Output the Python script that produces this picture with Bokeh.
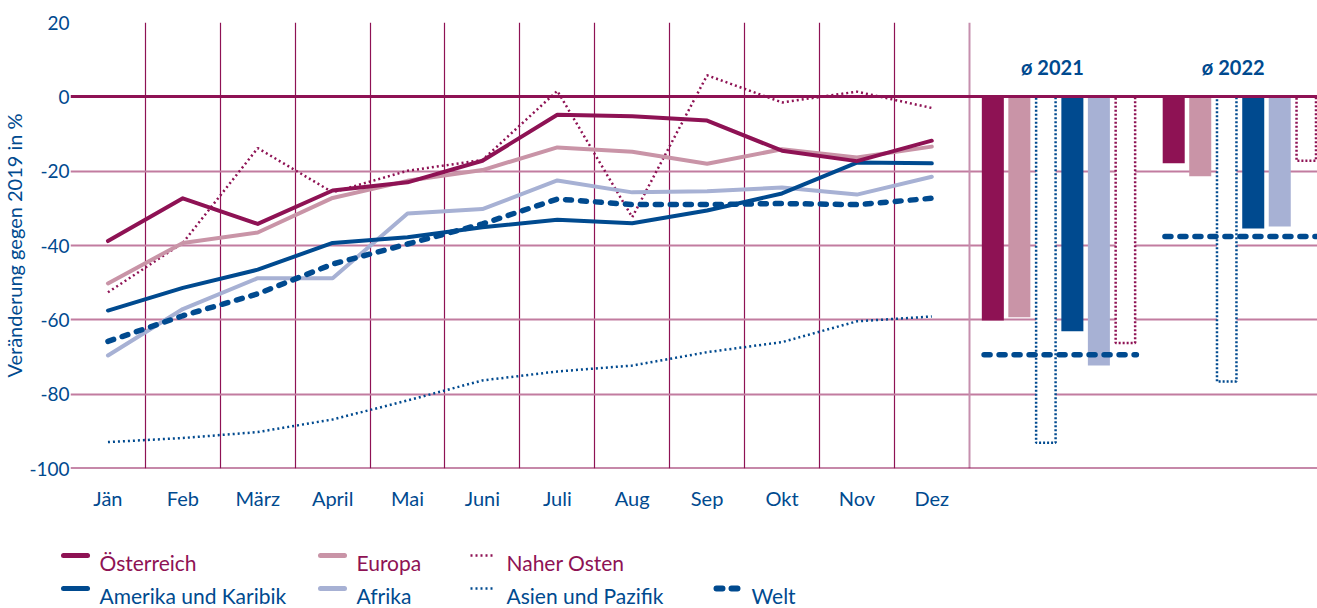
import math
from bokeh.plotting import figure
from bokeh.models import Range1d, FixedTicker
from bokeh.layouts import column, row
from bokeh.embed import file_html
from bokeh.resources import INLINE
from bokeh.core.properties import value

# ---------------- data ----------------
months = ["Jän", "Feb", "März", "April", "Mai", "Juni", "Juli", "Aug", "Sep", "Okt", "Nov", "Dez"]
oesterreich = [-38.8, -27.3, -34.2, -25.2, -23.0, -17.2, -4.8, -5.2, -6.4, -14.5, -17.3, -11.8]
europa = [-50.2, -39.3, -36.5, -27.2, -22.6, -19.7, -13.6, -14.8, -18.0, -14.1, -16.3, -13.4]
naher_osten = [-52.6, -39.3, -13.8, -25.7, -19.9, -17.0, 1.6, -32.4, 5.8, -1.5, 1.4, -3.0]
amerika = [-57.5, -51.4, -46.5, -39.3, -37.8, -35.1, -33.1, -34.0, -30.6, -26.0, -17.7, -17.9]
afrika = [-69.6, -57.1, -48.8, -48.8, -31.4, -30.2, -22.5, -25.7, -25.4, -24.4, -26.3, -21.5]
asien = [-92.9, -91.8, -90.2, -86.8, -81.7, -76.3, -73.9, -72.3, -68.7, -66.0, -60.4, -59.1]
welt = [-65.8, -58.9, -53.0, -45.0, -39.6, -34.2, -27.5, -29.0, -29.0, -28.7, -29.0, -27.3]

avg_years = ["ø 2021", "ø 2022"]
avg_oesterreich = [-60.2, -17.9]
avg_europa = [-59.3, -21.4]
avg_asien = [-93.1, -76.6]
avg_amerika = [-63.1, -35.4]
avg_afrika = [-72.3, -34.9]
avg_naher_osten = [-66.2, -17.2]
avg_welt = [-69.4, -37.6]

y_ticks = [-100, -80, -60, -40, -20, 0, 20]
y_title = "Veränderung gegen 2019 in %"
legend_row1 = ["Österreich", "Europa", "Naher Osten"]
legend_row2 = ["Amerika und Karibik", "Afrika", "Asien und Pazifik", "Welt"]

# ---------------- style ----------------
MAG = "#8e1254"
PINK = "#c994a7"
BLUE = "#004a8f"
LAV = "#a7b1d4"
HGRID = "#c27ca0"
FONT = "Lato"

TOP_H = 538
LEFT_W = 70
yr = Range1d(-100, 20)

# ---------------- y-axis strip (ticks + title) ----------------
tf = figure(width=LEFT_W, height=TOP_H, y_range=yr, x_range=Range1d(0, 1),
            toolbar_location=None, output_backend="svg", x_axis_location=None,
            min_border_left=66, min_border_right=0, min_border_top=22, min_border_bottom=70)
tf.outline_line_color = None
tf.grid.visible = False
tf.yaxis.ticker = FixedTicker(ticks=y_ticks)
tf.yaxis.major_label_overrides = {t: str(t) for t in y_ticks}
tf.yaxis.axis_line_color = None
tf.yaxis.major_tick_line_color = None
tf.yaxis.minor_tick_line_color = None
tf.yaxis.major_tick_out = 0
tf.yaxis.minor_tick_out = 0
tf.yaxis.major_label_standoff = 1
tf.yaxis.major_label_text_color = BLUE
tf.yaxis.major_label_text_font = FONT
tf.yaxis.major_label_text_font_size = "19px"
tf.yaxis.axis_label = y_title
tf.yaxis.axis_label_standoff = 0
tf.yaxis.axis_label_text_color = BLUE
tf.yaxis.axis_label_text_font = FONT
tf.yaxis.axis_label_text_font_style = "normal"
tf.yaxis.axis_label_text_font_size = "20px"
tf.scatter([0.5], [0], size=0, alpha=0)

# ---------------- main chart ----------------
p = figure(width=1317 - LEFT_W, height=TOP_H, x_range=Range1d(-0.5, 16.15), y_range=yr,
           toolbar_location=None, output_backend="svg", y_axis_location=None,
           min_border_left=0, min_border_right=0, min_border_top=22, min_border_bottom=70)
p.outline_line_color = None
p.background_fill_color = "white"

# grid
p.ygrid.ticker = FixedTicker(ticks=[-80, -60, -40, -20, 20])
p.ygrid.grid_line_color = HGRID
p.ygrid.grid_line_width = 2
p.xgrid.ticker = FixedTicker(ticks=[i - 0.5 for i in range(12)])
p.xgrid.grid_line_color = MAG
p.xgrid.grid_line_width = 1.2

# x axis
p.xaxis.ticker = FixedTicker(ticks=list(range(12)))
p.xaxis.major_label_overrides = {i: m for i, m in enumerate(months)}
p.xaxis.axis_line_color = None
p.xaxis.major_tick_line_color = None
p.xaxis.minor_tick_line_color = None
p.xaxis.major_tick_out = 0
p.xaxis.minor_tick_out = 0
p.xaxis.major_label_text_color = BLUE
p.xaxis.major_label_text_font = FONT
p.xaxis.major_label_text_font_size = "20px"
p.xaxis.major_label_standoff = 17

# separator between months and averages, bottom line
p.vspan(x=[11.5], line_color="#c68fae", line_width=2)
p.hspan(y=[-100], line_color=MAG, line_width=2)

# bars for averages
group_x = [12.70, 15.115]
step = 0.354
bar_w = 0.294
bar_series = [
    (avg_oesterreich, "solid", MAG),
    (avg_europa, "solid", PINK),
    (avg_asien, "dotted", BLUE),
    (avg_amerika, "solid", BLUE),
    (avg_afrika, "solid", LAV),
    (avg_naher_osten, "dotted", MAG),
]
for i, (vals, style, col) in enumerate(bar_series):
    xs = [g + (i - 2.5) * step for g in group_x]
    if style == "solid":
        p.vbar(x=xs, top=0, bottom=vals, width=bar_w, fill_color=col, line_color=None)
    else:
        p.vbar(x=xs, top=0, bottom=vals, width=bar_w - 0.034, fill_color="white",
               line_color=col, line_width=2.5, line_dash="2 2")

p.segment(x0=[g - 2.5 * step - bar_w / 2 + 0.03 for g in group_x],
          x1=[g + 2.5 * step + bar_w / 2 for g in group_x],
          y0=avg_welt, y1=avg_welt, line_color=BLUE, line_width=5.5,
          line_dash="6 9", line_cap="round")

# zero line
p.hspan(y=[0], line_color=MAG, line_width=3)

# lines
xm = list(range(12))
p.line(xm, asien, line_color=BLUE, line_width=2.5, line_dash="2 3")
p.line(xm, naher_osten, line_color=MAG, line_width=2.5, line_dash="2 3")
p.line(xm, afrika, line_color=LAV, line_width=4, line_join="round", line_cap="round")
p.line(xm, europa, line_color=PINK, line_width=4, line_join="round", line_cap="round")
p.line(xm, amerika, line_color=BLUE, line_width=4, line_join="round", line_cap="round")
p.line(xm, welt, line_color=BLUE, line_width=5.5, line_dash="6 9", line_cap="round",
       line_join="round")
p.line(xm, oesterreich, line_color=MAG, line_width=4, line_join="round", line_cap="round")

# average labels
p.text(x=[g - 0.09 for g in group_x], y=[8, 8], text=avg_years, text_color=BLUE,
       text_font=value(FONT), text_font_style="bold", text_font_size="20px",
       text_align="center", text_baseline="middle")

# ---------------- legend figure (page pixel coordinates) ----------------
LG_H = 70
LG_TOP = 546
lg = figure(width=1317, height=LG_H, x_range=Range1d(0, 1317), y_range=Range1d(LG_TOP + LG_H, LG_TOP),
            toolbar_location=None, output_backend="svg", x_axis_type=None, y_axis_type=None,
            min_border=0)
lg.outline_line_color = None
lg.grid.visible = False

row1_y, row2_y = 563, 596
row1_base, row2_base = 570, 603
sw_x = [63, 320, 470, 713]
tx_x = [99, 356, 506, 751]
# row 1
lg.segment(x0=[sw_x[0]], x1=[sw_x[0] + 24], y0=[row1_y], y1=[row1_y], line_color=MAG, line_width=5, line_cap="round")
lg.segment(x0=[sw_x[1]], x1=[sw_x[1] + 24], y0=[row1_y], y1=[row1_y], line_color=PINK, line_width=5, line_cap="round")
lg.segment(x0=[sw_x[2]], x1=[sw_x[2] + 22], y0=[row1_y], y1=[row1_y], line_color=MAG, line_width=2.5, line_dash="2 3")
lg.text(x=tx_x[:3], y=[row1_base] * 3, text=legend_row1, text_color=MAG, text_font=value(FONT),
        text_font_size="21px", text_baseline="alphabetic", text_align="left")
# row 2
lg.segment(x0=[sw_x[0]], x1=[sw_x[0] + 24], y0=[row2_y], y1=[row2_y], line_color=BLUE, line_width=5, line_cap="round")
lg.segment(x0=[sw_x[1]], x1=[sw_x[1] + 24], y0=[row2_y], y1=[row2_y], line_color=LAV, line_width=5, line_cap="round")
lg.segment(x0=[sw_x[2]], x1=[sw_x[2] + 22], y0=[row2_y], y1=[row2_y], line_color=BLUE, line_width=2.5, line_dash="2 3")
lg.segment(x0=[sw_x[3] + 3], x1=[sw_x[3] + 25], y0=[row2_y], y1=[row2_y], line_color=BLUE, line_width=6,
           line_dash="6 9", line_cap="round")
lg.text(x=tx_x, y=[row2_base] * 4, text=legend_row2, text_color=BLUE, text_font=value(FONT),
        text_font_size="21px", text_baseline="alphabetic", text_align="left")

layout = column(row(tf, p, spacing=0), lg, spacing=0)
open("out.html", "w").write(file_html(layout, INLINE))
